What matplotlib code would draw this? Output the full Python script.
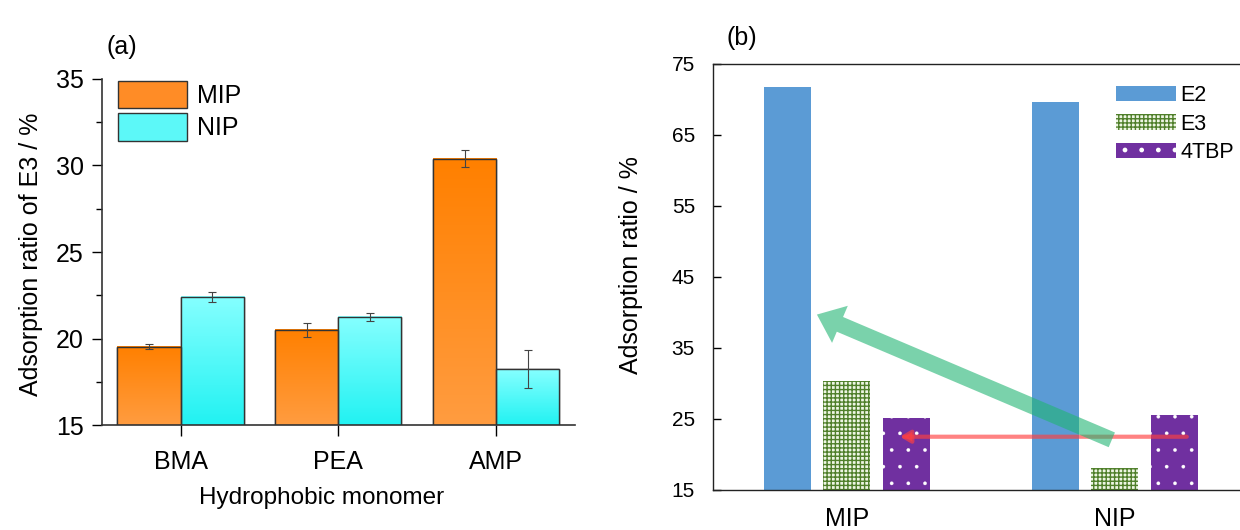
import numpy as np
import matplotlib.pyplot as plt
from matplotlib.colors import LinearSegmentedColormap
from matplotlib.ticker import MultipleLocator

plt.rcParams['font.family'] = ['Liberation Sans', 'DejaVu Sans']

# (a) adsorption ratio of E3 per hydrophobic monomer
monomers = ['BMA', 'PEA', 'AMP']
mip_e3 = [19.53, 20.49, 30.4]
mip_e3_err = [0.16, 0.43, 0.47]
nip_e3 = [22.4, 21.26, 18.22]
nip_e3_err = [0.3, 0.22, 1.09]

# (b) adsorption ratio of each template
polymers = ['MIP', 'NIP']
e2 = [71.8, 69.6]
e3 = [30.4, 18.1]
tbp = [25.2, 25.6]

# annotations in (b): red line and green arrow (data coords)
red_x = [0.198, 1.269]
red_y = 22.5
green_tip = (-0.112, 39.7)
green_tail = (0.989, 22.06)

fig = plt.figure(figsize=(12.4, 5.3), dpi=100)
ax1 = fig.add_axes([0.082, 0.198, 0.3817, 0.653])
ax2 = fig.add_axes([0.575, 0.0755, 0.432, 0.804])


def gradiente(ax, barras, c_arriba, c_abajo):
    # relleno degradado vertical en cada barra
    cmap = LinearSegmentedColormap.from_list('g', [c_abajo, c_arriba])
    y0 = ax.get_ylim()[0]
    for r in barras:
        ax.imshow(np.linspace(0, 1, 100).reshape(-1, 1), cmap=cmap, origin='lower',
                  aspect='auto', zorder=2,
                  extent=[r.get_x(), r.get_x() + r.get_width(), y0, r.get_height()])


def grosor_trama(barras, lw):
    # grosor de la trama para cada barra
    for r in barras:
        if hasattr(r, 'set_hatch_linewidth'):
            r.set_hatch_linewidth(lw)


# ---------- panel (a) ----------
x = np.arange(len(monomers))
w = 0.4
ax1.set_xlim(-0.5, 2.5)
ax1.set_ylim(15, 35)
b1 = ax1.bar(x - w / 2, mip_e3, w, color='#FF8C26', edgecolor='#333333', lw=1, label='MIP', zorder=1)
b2 = ax1.bar(x + w / 2, nip_e3, w, color='#5CF8F8', edgecolor='#333333', lw=1, label='NIP', zorder=1)
gradiente(ax1, b1, '#FF8000', '#FF9C40')
gradiente(ax1, b2, '#85FFFF', '#22F2F2')
ax1.bar(x - w / 2, mip_e3, w, fill=False, edgecolor='#333333', lw=1, zorder=3)
ax1.bar(x + w / 2, nip_e3, w, fill=False, edgecolor='#333333', lw=1, zorder=3)
ax1.errorbar(x - w / 2, mip_e3, yerr=mip_e3_err, fmt='none', ecolor='#444444',
             elinewidth=0.8, capsize=3, capthick=0.8, zorder=4)
ax1.errorbar(x + w / 2, nip_e3, yerr=nip_e3_err, fmt='none', ecolor='#444444',
             elinewidth=0.8, capsize=3, capthick=0.8, zorder=4)
ax1.set_xlim(-0.5, 2.5)
ax1.set_ylim(15, 35)

for s in ['top', 'right']:
    ax1.spines[s].set_visible(False)
for s in ['left', 'bottom']:
    ax1.spines[s].set_color('#333333')
    ax1.spines[s].set_linewidth(1.2)

ax1.set_xticks(x, monomers)
ax1.set_yticks([15, 20, 25, 30, 35])
ax1.yaxis.set_minor_locator(MultipleLocator(2.5))
ax1.tick_params(axis='x', direction='out', length=8, width=1, pad=10, labelsize=18)
ax1.tick_params(axis='y', which='major', direction='out', length=7, width=1, pad=6, labelsize=18)
ax1.tick_params(axis='y', which='minor', direction='out', length=4, width=1)

ax1.set_xlabel('Hydrophobic monomer', fontsize=17.5)
ax1.xaxis.set_label_coords(0.465, -0.18)
ax1.set_ylabel('Adsorption ratio of E3 / %', fontsize=18)
ax1.yaxis.set_label_coords(-0.125, 0.494)

ax1.legend(handles=[b1, b2], loc='upper left', bbox_to_anchor=(118 / 1240, 1 - 81 / 530),
           bbox_transform=fig.transFigure, frameon=False, fontsize=18,
           handlelength=2.75, handleheight=1.3, labelspacing=0.2, handletextpad=0.4,
           borderpad=0, borderaxespad=0)

# ---------- panel (b) ----------
xb = np.arange(len(polymers))
wb = 0.175
off = 0.222
with plt.rc_context({'hatch.linewidth': 1.0}):
    c1 = ax2.bar(xb - off, e2, wb, color='#5B9BD5', lw=0, label='E2', zorder=1)
    c2 = ax2.bar(xb, e3, wb, color='#EEF6E4', edgecolor='#4F7F2A', hatch='++++', lw=0,
                 label='E3', zorder=1)
grosor_trama(c2, 1.0)
with plt.rc_context({'hatch.linewidth': 0.2}):
    c3 = ax2.bar(xb + off, tbp, wb, color='#7030A0', edgecolor='white', hatch='.', lw=0,
                 label='4TBP', zorder=1)
grosor_trama(c3, 0.2)
ax2.set_xlim(-0.5, 1.5)
ax2.set_ylim(15, 75)

ax2.annotate('', xy=(red_x[0], red_y), xytext=(red_x[1], red_y),
             arrowprops=dict(arrowstyle='-|>,head_length=0.5,head_width=0.3', color='#FF4040',
                             alpha=0.65, lw=3, shrinkA=0, shrinkB=0, mutation_scale=12),
             zorder=5)
ax2.annotate('', xy=green_tip, xytext=green_tail,
             arrowprops=dict(arrowstyle='simple,head_length=1.8,head_width=2.9,tail_width=1.15',
                             mutation_scale=10, fc='#22B573', ec='none', alpha=0.6,
                             shrinkA=0, shrinkB=0),
             zorder=6)

ax2.spines['right'].set_visible(False)
for s in ['left', 'top', 'bottom']:
    ax2.spines[s].set_color('#222222')
    ax2.spines[s].set_linewidth(1)

ax2.set_xticks(xb, polymers)
ax2.set_yticks(np.arange(15, 76, 10))
ax2.tick_params(axis='x', length=0, pad=12, labelsize=18)
ax2.tick_params(axis='y', direction='in', length=6, width=1, pad=13, labelsize=15)
ax2.set_ylabel('Adsorption ratio / %', fontsize=18)
ax2.yaxis.set_label_coords(-0.13, 0.528)

ax2.legend(handles=[c1, c2, c3], loc='upper left', bbox_to_anchor=(1116 / 1240, 1 - 85 / 530),
           bbox_transform=fig.transFigure, frameon=False, fontsize=15.5,
           handlelength=2.8, handleheight=0.7, labelspacing=0.35, handletextpad=0.2,
           borderpad=0, borderaxespad=0)

fig.text(107 / 1240, 1 - 47 / 530, '(a)', fontsize=18, va='center')
fig.text(726 / 1240, 1 - 38 / 530, '(b)', fontsize=18, va='center')

fig.savefig('out.png', dpi=100)
